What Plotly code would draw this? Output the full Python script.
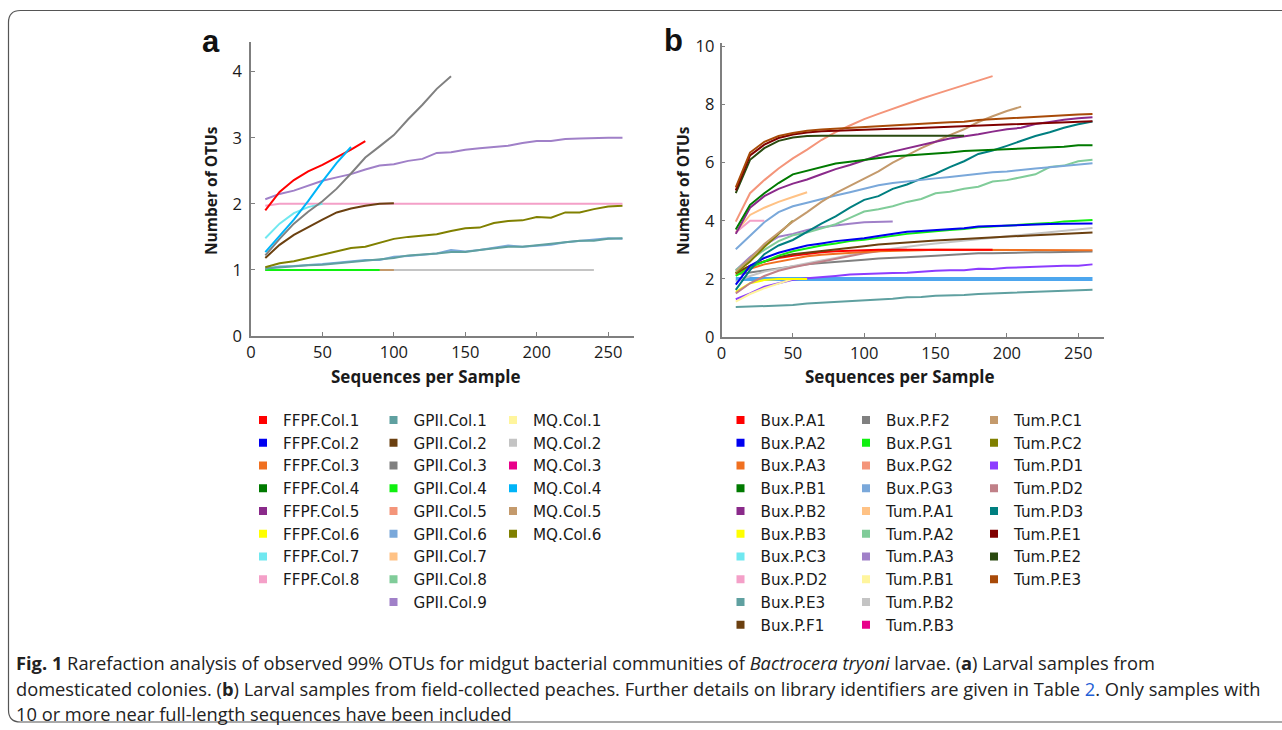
import plotly.graph_objects as go

W, H = 1282, 730

# ---------------- data ----------------
DEPTHS = [10, 20, 30, 40, 50, 60, 70, 80, 90, 100, 110, 120, 130,
          140, 150, 160, 170, 180, 190, 200, 210, 220, 230, 240, 250, 260]

# Panel a: domesticated colonies
A_NAMES = ["FFPF.Col.1", "FFPF.Col.2", "FFPF.Col.3", "FFPF.Col.4", "FFPF.Col.5",
           "FFPF.Col.6", "FFPF.Col.7", "FFPF.Col.8",
           "GPII.Col.1", "GPII.Col.2", "GPII.Col.3", "GPII.Col.4", "GPII.Col.5",
           "GPII.Col.6", "GPII.Col.7", "GPII.Col.8", "GPII.Col.9",
           "MQ.Col.1", "MQ.Col.2", "MQ.Col.3", "MQ.Col.4", "MQ.Col.5", "MQ.Col.6"]
A_COLORS = ["#FF0000", "#0000F0", "#F07020", "#007A00", "#8A2A8A",
            "#FFFF00", "#70E8F0", "#F4A0C8",
            "#5FA0A0", "#6B4010", "#808080", "#10F010", "#F4957A",
            "#7AA8DA", "#FFC285", "#80CC99", "#A080C8",
            "#FFF59D", "#C4C4C4", "#E8008A", "#00B4F8", "#C49A6C", "#808000"]

a_ffpf_col1 = [1.90, 2.18, 2.36, 2.49, 2.59, 2.70, 2.82, 2.95]
a_ffpf_col7 = [1.48, 1.70, 1.86, 1.95, 2.00]
a_ffpf_col8 = [1.97, 2.00, 2.00, 2.00, 2.00, 2.00, 2.00, 2.00, 2.00, 2.00, 2.00, 2.00, 2.00,
               2.00, 2.00, 2.00, 2.00, 2.00, 2.00, 2.00, 2.00, 2.00, 2.00, 2.00, 2.00, 2.00]
a_gpii_col1 = [1.02, 1.04, 1.06, 1.07, 1.08, 1.10, 1.13, 1.14, 1.16, 1.18, 1.22, 1.23, 1.25,
               1.27, 1.27, 1.30, 1.33, 1.35, 1.35, 1.37, 1.39, 1.41, 1.44, 1.44, 1.47, 1.48]
a_gpii_col2 = [1.18, 1.38, 1.53, 1.65, 1.76, 1.87, 1.93, 1.97, 2.00, 2.01]
a_gpii_col3 = [1.22, 1.47, 1.70, 1.88, 2.04, 2.23, 2.46, 2.70, 2.87, 3.04, 3.28, 3.50, 3.74, 3.93]
a_gpii_col4 = [1.00, 1.00, 1.00, 1.00, 1.00, 1.00, 1.00, 1.00, 1.00]
a_gpii_col6 = [1.02, 1.05, 1.06, 1.07, 1.09, 1.11, 1.13, 1.15, 1.15, 1.20, 1.21, 1.23, 1.25,
               1.30, 1.28, 1.30, 1.34, 1.37, 1.35, 1.37, 1.38, 1.42, 1.44, 1.45, 1.48, 1.47]
a_gpii_col9 = [2.07, 2.15, 2.20, 2.28, 2.35, 2.40, 2.45, 2.52, 2.58, 2.60, 2.65, 2.68, 2.77,
               2.78, 2.82, 2.84, 2.86, 2.88, 2.92, 2.95, 2.95, 2.98, 2.99, 3.00, 3.00, 3.00]
a_mq_col2 = [1.00, 1.00, 1.00, 1.00, 1.00, 1.00, 1.00, 1.00, 1.00, 1.00, 1.00, 1.00,
             1.00, 1.00, 1.00, 1.00, 1.00, 1.00, 1.00, 1.00, 1.00, 1.00, 1.00, 1.00]
a_mq_col4 = [1.27, 1.52, 1.76, 2.04, 2.34, 2.62, 2.86]
a_mq_col5 = [1.00, 1.00, 1.00, 1.00, 1.00, 1.00, 1.00, 1.00, 1.00, 1.00]
a_mq_col6 = [1.04, 1.10, 1.13, 1.18, 1.24, 1.28, 1.33, 1.35, 1.41, 1.47, 1.50, 1.52, 1.54,
             1.59, 1.63, 1.64, 1.71, 1.74, 1.75, 1.80, 1.79, 1.87, 1.87, 1.92, 1.96, 1.97]

# drawing order (bottom to top)
A_SERIES = [
    ("MQ.Col.2", a_mq_col2), ("MQ.Col.5", a_mq_col5), ("GPII.Col.4", a_gpii_col4),
    ("GPII.Col.6", a_gpii_col6), ("GPII.Col.1", a_gpii_col1), ("MQ.Col.6", a_mq_col6),
    ("FFPF.Col.8", a_ffpf_col8), ("GPII.Col.9", a_gpii_col9), ("FFPF.Col.7", a_ffpf_col7),
    ("GPII.Col.2", a_gpii_col2), ("GPII.Col.3", a_gpii_col3), ("FFPF.Col.1", a_ffpf_col1),
    ("MQ.Col.4", a_mq_col4),
]

# Panel b: field-collected peaches
B_NAMES = ["Bux.P.A1", "Bux.P.A2", "Bux.P.A3", "Bux.P.B1", "Bux.P.B2", "Bux.P.B3",
           "Bux.P.C3", "Bux.P.D2", "Bux.P.E3", "Bux.P.F1",
           "Bux.P.F2", "Bux.P.G1", "Bux.P.G2", "Bux.P.G3", "Tum.P.A1", "Tum.P.A2",
           "Tum.P.A3", "Tum.P.B1", "Tum.P.B2", "Tum.P.B3",
           "Tum.P.C1", "Tum.P.C2", "Tum.P.D1", "Tum.P.D2", "Tum.P.D3", "Tum.P.E1",
           "Tum.P.E2", "Tum.P.E3"]
B_COLORS = ["#FF0000", "#0000F0", "#F07020", "#007A00", "#8A2A8A", "#FFFF00",
            "#70E8F0", "#F4A0C8", "#5FA0A0", "#6B4010",
            "#808080", "#10F010", "#F4957A", "#7AA8DA", "#FFC285", "#80CC99",
            "#A080C8", "#FFF59D", "#C4C4C4", "#E8008A",
            "#C49A6C", "#808000", "#8C3CFF", "#C08088", "#007F80", "#800000",
            "#2A4A10", "#A84A08"]

b_bux_a1 = [2.20, 2.45, 2.60, 2.72, 2.80, 2.87, 2.92, 2.95, 2.97, 2.99, 3.00, 3.00, 3.00,
            3.00, 3.00, 3.00, 3.00, 3.00, 3.00]
b_bux_a2 = [1.80, 2.45, 2.72, 2.90, 3.03, 3.15, 3.22, 3.30, 3.35, 3.40, 3.48, 3.55, 3.62,
            3.65, 3.68, 3.71, 3.74, 3.80, 3.82, 3.85, 3.87, 3.88, 3.89, 3.90, 3.90, 3.91]
b_bux_a3 = [2.15, 2.35, 2.50, 2.60, 2.70, 2.78, 2.83, 2.87, 2.90, 2.93, 2.95, 2.97, 2.98,
            2.99, 3.00, 3.00, 3.00, 3.00, 3.00, 3.00, 3.00, 3.00, 3.00, 3.00, 3.00, 2.99]
b_bux_b1 = [3.70, 4.55, 4.95, 5.30, 5.60, 5.72, 5.85, 5.97, 6.03, 6.10, 6.17, 6.22, 6.25,
            6.28, 6.32, 6.35, 6.40, 6.42, 6.45, 6.47, 6.48, 6.52, 6.54, 6.55, 6.60, 6.60]
b_bux_b2 = [3.55, 4.45, 4.85, 5.10, 5.28, 5.42, 5.60, 5.78, 5.92, 6.08, 6.25, 6.38, 6.50,
            6.62, 6.72, 6.83, 6.90, 6.98, 7.07, 7.15, 7.20, 7.33, 7.40, 7.48, 7.53, 7.56]
b_bux_b3 = [1.55, 1.85, 1.96, 2.00, 2.00, 2.00]
b_bux_c3 = [2.00, 2.00, 2.00, 2.00, 2.00, 2.00, 2.00, 2.00, 2.00, 2.00, 2.00, 2.00, 2.00,
            2.00, 2.00, 2.00, 2.00, 2.00, 2.00, 2.00, 2.00, 2.00, 2.00, 2.00, 2.00, 2.00]
b_bux_d2 = [3.60, 4.00, 4.00]
b_bux_e3 = [1.03, 1.05, 1.07, 1.08, 1.10, 1.15, 1.18, 1.20, 1.22, 1.27, 1.30, 1.32, 1.37,
            1.38, 1.42, 1.43, 1.45, 1.48, 1.50, 1.52, 1.52, 1.55, 1.57, 1.58, 1.60, 1.63]
b_bux_f1 = [2.20, 2.45, 2.60, 2.75, 2.85, 2.90, 2.97, 3.02, 3.07, 3.12, 3.18, 3.22, 3.25,
            3.28, 3.32, 3.35, 3.38, 3.40, 3.43, 3.45, 3.48, 3.50, 3.52, 3.55, 3.58, 3.60]
b_bux_f2 = [2.15, 2.22, 2.30, 2.38, 2.43, 2.50, 2.55, 2.58, 2.62, 2.66, 2.70, 2.72, 2.73,
            2.77, 2.80, 2.83, 2.87, 2.88, 2.88, 2.90, 2.90, 2.92, 2.92, 2.93, 2.94, 2.94]
b_bux_g1 = [2.10, 2.40, 2.60, 2.80, 2.95, 3.05, 3.15, 3.22, 3.30, 3.35, 3.42, 3.50, 3.55,
            3.60, 3.65, 3.68, 3.72, 3.78, 3.80, 3.84, 3.86, 3.90, 3.92, 3.98, 4.00, 4.03]
b_bux_g2 = [3.97, 4.95, 5.40, 5.80, 6.15, 6.45, 6.78, 7.05, 7.28, 7.50, 7.68, 7.86, 8.02,
            8.20, 8.36, 8.52, 8.67, 8.83, 8.98]
b_bux_g3 = [3.02, 3.50, 3.95, 4.30, 4.50, 4.62, 4.75, 4.87, 4.98, 5.10, 5.22, 5.30, 5.36,
            5.42, 5.46, 5.51, 5.57, 5.63, 5.67, 5.70, 5.76, 5.80, 5.84, 5.88, 5.93, 5.98]
b_tum_a1 = [3.60, 4.20, 4.45, 4.65, 4.82, 4.98]
b_tum_a2 = [2.30, 2.65, 3.00, 3.30, 3.50, 3.60, 3.75, 3.88, 4.10, 4.32, 4.40, 4.50, 4.65,
            4.75, 4.95, 5.00, 5.10, 5.17, 5.35, 5.40, 5.50, 5.60, 5.85, 5.90, 6.05, 6.10]
b_tum_a3 = [2.30, 2.75, 3.15, 3.45, 3.55, 3.68, 3.78, 3.85, 3.90, 3.95, 3.97, 3.98]
b_tum_b1 = [1.22, 1.48, 1.68, 1.85, 2.00]
b_tum_b2 = [1.90, 2.10, 2.25, 2.35, 2.45, 2.55, 2.63, 2.72, 2.82, 2.92, 2.98, 3.05, 3.10,
            3.17, 3.22, 3.27, 3.32, 3.37, 3.42, 3.47, 3.52, 3.57, 3.62, 3.67, 3.72, 3.75]
b_tum_c1 = [2.25, 2.70, 3.20, 3.60, 3.97, 4.30, 4.65, 4.95, 5.20, 5.45, 5.70, 6.00, 6.25,
            6.50, 6.72, 6.95, 7.15, 7.40, 7.60, 7.78, 7.93]
b_tum_c2 = [2.20, 2.60, 3.10, 3.55, 4.00]
b_tum_d1 = [1.30, 1.50, 1.73, 1.85, 1.97, 2.02, 2.05, 2.10, 2.15, 2.17, 2.20, 2.20, 2.21,
            2.25, 2.28, 2.30, 2.30, 2.35, 2.34, 2.38, 2.40, 2.42, 2.43, 2.45, 2.45, 2.50]
b_tum_d2 = [1.50, 1.85, 2.10, 2.28, 2.40, 2.50, 2.60, 2.70, 2.80, 2.88, 2.95, 3.00, 3.00]
b_tum_d3 = [1.62, 2.30, 2.85, 3.15, 3.34, 3.62, 3.90, 4.15, 4.45, 4.72, 4.85, 5.10, 5.25,
            5.45, 5.62, 5.85, 6.05, 6.30, 6.42, 6.58, 6.75, 6.92, 7.05, 7.20, 7.32, 7.42]
b_tum_e1 = [5.05, 6.25, 6.62, 6.85, 6.97, 7.04, 7.08, 7.10, 7.12, 7.15, 7.16, 7.17, 7.18,
            7.20, 7.22, 7.24, 7.26, 7.28, 7.30, 7.31, 7.33, 7.36, 7.38, 7.40, 7.42, 7.43]
b_tum_e2 = [4.95, 6.10, 6.50, 6.75, 6.87, 6.92, 6.93, 6.93, 6.93, 6.93, 6.93, 6.93, 6.93,
            6.93, 6.93, 6.93, 6.93]
b_tum_e3 = [5.15, 6.35, 6.72, 6.92, 7.02, 7.10, 7.14, 7.17, 7.20, 7.24, 7.27, 7.30, 7.33,
            7.35, 7.37, 7.39, 7.41, 7.47, 7.50, 7.53, 7.56, 7.59, 7.62, 7.64, 7.66, 7.68]

B_SERIES = [
    ("Bux.P.C3", b_bux_c3), ("Bux.P.E3", b_bux_e3), ("Tum.P.D1", b_tum_d1),
    ("Tum.P.B1", b_tum_b1), ("Bux.P.B3", b_bux_b3), ("Bux.P.F2", b_bux_f2),
    ("Tum.P.B2", b_tum_b2), ("Tum.P.D2", b_tum_d2), ("Bux.P.A3", b_bux_a3),
    ("Bux.P.A1", b_bux_a1), ("Bux.P.F1", b_bux_f1), ("Bux.P.G1", b_bux_g1),
    ("Bux.P.A2", b_bux_a2), ("Tum.P.A3", b_tum_a3), ("Tum.P.A2", b_tum_a2),
    ("Tum.P.D3", b_tum_d3), ("Bux.P.G3", b_bux_g3), ("Tum.P.A1", b_tum_a1),
    ("Bux.P.D2", b_bux_d2), ("Tum.P.C2", b_tum_c2), ("Tum.P.C1", b_tum_c1),
    ("Bux.P.B2", b_bux_b2), ("Bux.P.B1", b_bux_b1), ("Bux.P.G2", b_bux_g2),
    ("Tum.P.E2", b_tum_e2), ("Tum.P.E1", b_tum_e1), ("Tum.P.E3", b_tum_e3),
]

A_XTICKS = [0, 50, 100, 150, 200, 250]
A_YTICKS = [0, 1, 2, 3, 4]
B_XTICKS = [0, 50, 100, 150, 200, 250]
B_YTICKS = [0, 2, 4, 6, 8, 10]

# ---------------- helpers ----------------
def fx(px):
    return px / W

def fy(py):
    return 1 - py / H

a_col = dict(zip(A_NAMES, A_COLORS))
b_col = dict(zip(B_NAMES, B_COLORS))
line_override = {"Bux.P.C3": ("#4DA6EE", 4)}

fig = go.Figure()

for name, vals in A_SERIES:
    fig.add_trace(go.Scatter(x=DEPTHS[:len(vals)], y=vals, mode="lines", name=name,
                             line=dict(color=a_col[name], width=2),
                             showlegend=False, xaxis="x", yaxis="y"))

for name, vals in B_SERIES:
    c, w = line_override.get(name, (b_col[name], 2))
    fig.add_trace(go.Scatter(x=DEPTHS[:len(vals)], y=vals, mode="lines", name=name,
                             line=dict(color=c, width=w),
                             showlegend=False, xaxis="x2", yaxis="y2"))

# legend entries (square swatches), column-major in six legends
A_COLS = [A_NAMES[0:8], A_NAMES[8:17], A_NAMES[17:23]]
B_COLS = [B_NAMES[0:10], B_NAMES[10:20], B_NAMES[20:28]]
legend_ids = ["legend", "legend2", "legend3", "legend4", "legend5", "legend6"]
all_cols = [(c, a_col, "x", "y") for c in A_COLS] + [(c, b_col, "x2", "y2") for c in B_COLS]
for lid, (names, cmap, xa, ya) in zip(legend_ids, all_cols):
    for n in names:
        fig.add_trace(go.Scatter(x=[None], y=[None], mode="markers", name=n,
                                 marker=dict(symbol="square", size=8, color=cmap[n]),
                                 legend=lid, showlegend=True, xaxis=xa, yaxis=ya))

LEG_FONT = dict(family="DejaVu Sans", size=15.2, color="#1a1a1a")
swatch_x = [263, 393.5, 513, 740.5, 866, 994]
first_row_y = 420.5
legend_layout = {}
for lid, sx in zip(legend_ids, swatch_x):
    legend_layout[lid] = dict(x=fx(sx - 20), y=fy(first_row_y - 17), xanchor="left",
                              yanchor="top", bgcolor="rgba(0,0,0,0)", borderwidth=0,
                              font=LEG_FONT, traceorder="normal", tracegroupgap=0,
                              orientation="v")

TICK_FONT = dict(family="Open Sans", size=16.5, color="#1a1a1a")
AX_COLOR = "#7f7f7f"
common_ax = dict(showgrid=False, zeroline=False, showline=True, linecolor=AX_COLOR,
                 linewidth=1.5, ticks="inside", ticklen=4, tickcolor=AX_COLOR,
                 tickwidth=1, tickfont=TICK_FONT, fixedrange=True, automargin=False)

fig.update_layout(
    width=W, height=H, autosize=False,
    margin=dict(l=0, r=0, t=0, b=0, pad=0, autoexpand=False),
    paper_bgcolor="white", plot_bgcolor="white",
    xaxis=dict(domain=[fx(251), fx(633.9)], range=[0, 268], tickvals=A_XTICKS,
               anchor="y", **common_ax),
    yaxis=dict(domain=[fy(336), fy(41.6)], range=[0, 4.455], tickvals=A_YTICKS,
               anchor="x", ticklabelstandoff=4, **common_ax),
    xaxis2=dict(domain=[fx(721.5), fx(1103.9)], range=[0, 268], tickvals=B_XTICKS,
                anchor="y2", **common_ax),
    yaxis2=dict(domain=[fy(337), fy(43)], range=[0, 10.12], tickvals=B_YTICKS,
                anchor="x2", ticklabelstandoff=2, **common_ax),
    **legend_layout,
)

TITLE_FONT = dict(family="Open Sans", size=17, color="#1a1a1a")
YT_FONT = dict(family="Open Sans", size=15.5, color="#1a1a1a")
LABEL_FONT = dict(family="Liberation Sans", size=31, color="#111")

def centered(text, px, py, font, angle=0):
    return dict(text=text, x=fx(px), y=fy(py), xref="paper", yref="paper",
                xanchor="center", yanchor="middle", showarrow=False,
                textangle=angle, font=font)

ann = [
    centered("<b>a</b>", 211, 41, LABEL_FONT),
    centered("<b>b</b>", 673, 40, LABEL_FONT),
    centered("<b>Number of OTUs</b>", 211, 191, YT_FONT, -90),
    centered("<b>Number of OTUs</b>", 683, 191, YT_FONT, -90),
    centered("<b>Sequences per Sample</b>", 425, 376.5, TITLE_FONT),
    centered("<b>Sequences per Sample</b>", 899, 376.5, TITLE_FONT),
]

CAP_FONT = dict(family="Open Sans", size=18.3, color="#222222")
cap_lines = [
    "<b>Fig. 1</b> Rarefaction analysis of observed 99% OTUs for midgut bacterial communities of "
    "<i>Bactrocera tryoni</i> larvae. (<b>a</b>) Larval samples from",
    "domesticated colonies. (<b>b</b>) Larval samples from field-collected peaches. Further details "
    "on library identifiers are given in Table <span style='color:#1f5fd6'>2</span>. Only samples with",
    "10 or more near full-length sequences have been included",
]
for t, py in zip(cap_lines, [662, 688, 713]):
    ann.append(dict(text=t, x=fx(14), y=fy(py), xref="paper", yref="paper", xanchor="left",
                    yanchor="middle", showarrow=False, font=CAP_FONT, align="left"))
fig.update_layout(annotations=ann)

# rounded frame around the whole figure
l, t, r, b, rad = 8.5, 10.5, 1300, 722, 12
path = (f"M {fx(l)},{fy(t + rad)} Q {fx(l)},{fy(t)} {fx(l + rad)},{fy(t)} "
        f"L {fx(r)},{fy(t)} L {fx(r)},{fy(b)} L {fx(l + rad)},{fy(b)} "
        f"Q {fx(l)},{fy(b)} {fx(l)},{fy(b - rad)} Z")
fig.add_shape(type="path", path=path, xref="paper", yref="paper",
              line=dict(color="#555555", width=1.2), fillcolor="rgba(0,0,0,0)", layer="below")

fig.write_html("out.html",
               config={"displayModeBar": False},
               post_script="document.body.style.margin='0px';document.body.style.padding='0px';"
                           "document.documentElement.style.overflow='hidden';")
